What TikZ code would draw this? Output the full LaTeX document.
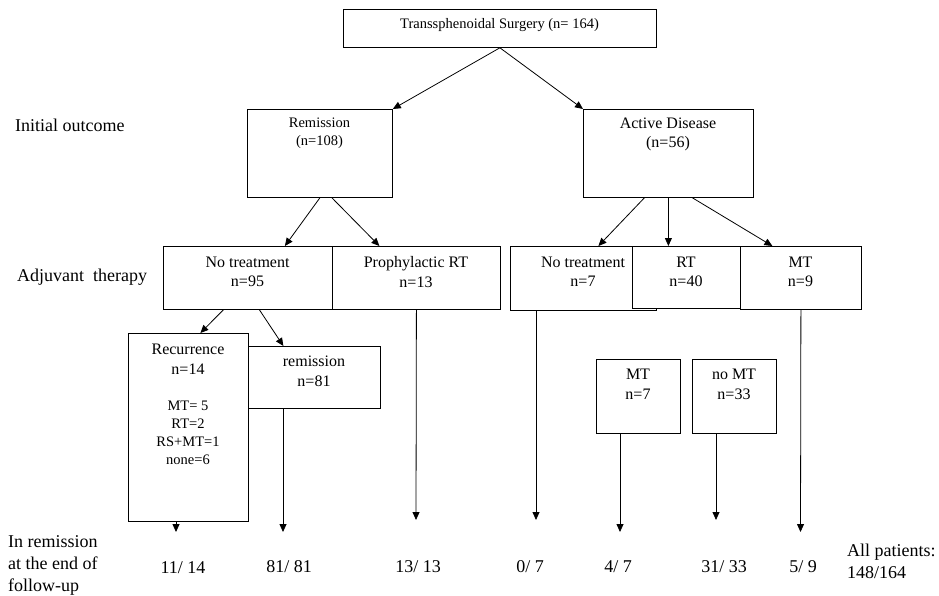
\documentclass[tikz,border=0pt]{standalone}
\usepackage{fontspec}
\setmainfont{Liberation Serif}
\usetikzlibrary{arrows.meta,positioning}
\tikzset{
  box/.style={draw, line width=0.8pt, fill=white, inner sep=0pt, anchor=north west},
  txt/.style={align=center, inner sep=0pt},
  small/.style={font=\fontsize{14.5}{18}\selectfont},
  mid/.style={font=\fontsize{16}{19.5}\selectfont},
  big/.style={font=\fontsize{18}{22}\selectfont},
  arr/.style={-{Triangle[length=8pt,width=7pt]}, line width=0.8pt},
}
\begin{document}
\begin{tikzpicture}[x=1pt,y=-1pt]
  \useasboundingbox (0,0) rectangle (939,595);

  % boxes
  \node[box, minimum width=313pt, minimum height=38pt] (top) at (343,9) {};
  \node[box, minimum width=145pt, minimum height=88pt] (rem) at (247,109) {};
  \node[box, minimum width=170pt, minimum height=88pt] (act) at (583,109) {};
  \node[box, minimum width=169pt, minimum height=63pt] (nt1) at (163,246) {};
  \node[box, minimum width=168pt, minimum height=63pt] (pro) at (332,246) {};
  \node[box, minimum width=146pt, minimum height=64pt] (nt2) at (510,246) {};
  \node[box, minimum width=108pt, minimum height=62pt] (rt) at (632,246) {};
  \node[box, minimum width=121pt, minimum height=63pt] (mt) at (740,246) {};
  \node[box, minimum width=120pt, minimum height=188pt] (rec) at (128,333) {};
  \node[box, minimum width=132pt, minimum height=62pt] (rems) at (248,346) {};
  \node[box, minimum width=84pt, minimum height=74pt] (mtb) at (596,359) {};
  \node[box, minimum width=84pt, minimum height=74pt] (nomt) at (692,359) {};

  % box texts
  \node[txt, small] (toptext) at (499.5,25) {Transsphenoidal Surgery (n= 164)};
  \node[txt, small] (remtext) at (319.5,133.5) {Remission\\(n=108)};
  \node[txt, mid] (acttext) at (668,134.5) {Active Disease\\(n=56)};
  \node[txt, mid] (nt1text) at (247.5,272) {No treatment\\n=95};
  \node[txt, mid] (protext) at (416,272) {Prophylactic RT\\n=13};
  \node[txt, mid] (nt2text) at (583,272) {No treatment\\n=7};
  \node[txt, mid] (rttext) at (686,272) {RT\\n=40};
  \node[txt, mid] (mttext) at (800.5,272) {MT\\n=9};
  \node[txt, mid] (rectext) at (188,359.5) {Recurrence\\n=14};
  \node[txt, small] (recsub) at (188,433) {MT= 5\\RT=2\\RS+MT=1\\none=6};
  \node[txt, mid] (remstext) at (314,371.5) {remission\\n=81};
  \node[txt, mid] (mtbtext) at (638,384.5) {MT\\n=7};
  \node[txt, mid] (nomttext) at (734,384.5) {no MT\\n=33};

  % row labels
  \node[txt, big, anchor=west] (initial) at (15,125) {Initial outcome};
  \node[txt, big, anchor=west] (adjuvant) at (17,277) {Adjuvant\ \ therapy};
  \node[txt, big, anchor=west, align=left] (final) at (8,565) {In remission\\at the end of\\follow-up};
  \node[txt, big, anchor=west, align=left] (allpat) at (847,561.5) {All patients:\\148/164};

  % results
  \node[txt, big] (res1) at (183,568) {11/ 14};
  \node[txt, big] (res2) at (289,567) {81/ 81};
  \node[txt, big] (res3) at (418,567) {13/ 13};
  \node[txt, big] (res4) at (530,567) {0/ 7};
  \node[txt, big] (res5) at (618,567) {4/ 7};
  \node[txt, big] (res6) at (724,567) {31/ 33};
  \node[txt, big] (res7) at (803,567) {5/ 9};

  % arrow ends
  \coordinate (end1) at (176,532);
  \coordinate (end2) at (283,532);
  \coordinate (end3) at (416,520);
  \coordinate (end4) at (536,520);
  \coordinate (end5) at (620,532);
  \coordinate (end6) at (716,520);
  \coordinate (end7) at (800.5,532);

  % arrows
  \draw[arr] (top.south) -- (rem.north east);
  \draw[arr] (top.south) -- (act.north west);
  \draw[arr] (rem.south) -- ([xshift=37pt]nt1.north);
  \draw[arr] ([xshift=12pt]rem.south) -- ([xshift=-37pt]pro.north);
  \draw[arr] ([xshift=-24pt]act.south) -- ([xshift=15pt]nt2.north);
  \draw[arr] (act.south) -- (act.south |- rt.north);
  \draw[arr] ([xshift=24pt]act.south) -- ([xshift=-28.5pt]mt.north);
  \draw[arr] ([xshift=-24.5pt]nt1.south) -- ([xshift=12pt]rec.north);
  \draw[arr] ([xshift=11.5pt]nt1.south) -- ([xshift=-31pt]rems.north);
  \draw[arr] (rec.south -| end1) -- (end1);
  \draw[arr] (rems.south -| end2) -- (end2);
  \draw[arr] (pro.south) -- (end3);
  \draw[arr] (nt2.south -| end4) -- (end4);
  \draw[arr] (mtb.south -| end5) -- (end5);
  \draw[arr] (nomt.south -| end6) -- (end6);
  \draw[arr] (mt.south) -- (end7);
\end{tikzpicture}
\end{document}
